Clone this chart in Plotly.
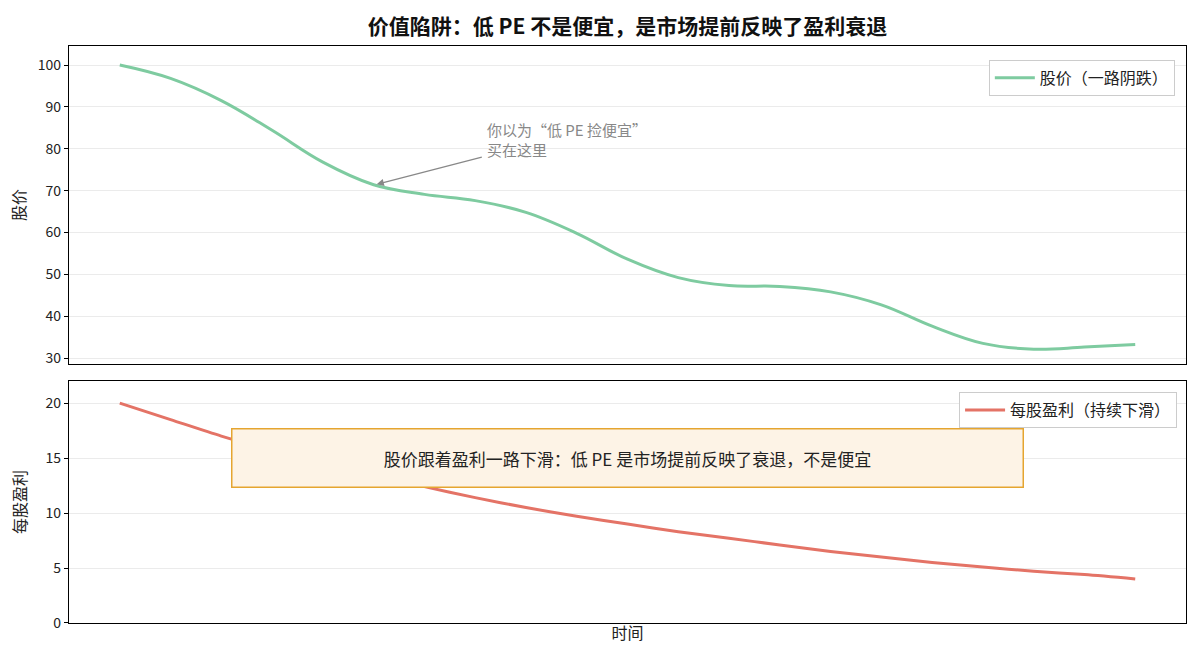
import plotly.graph_objects as go
from plotly.subplots import make_subplots

# ---- data ----
time = [0, 5, 10, 15, 20, 25, 30, 35, 40, 45, 50, 55, 60, 65, 70, 75, 80, 85, 90, 95, 100]
price = [100.0, 96.8, 91.5, 84.4, 76.8, 71.4, 69.1, 67.6, 64.8, 59.8, 53.6, 49.2,
         47.3, 47.1, 45.8, 42.7, 37.6, 33.5, 32.1, 32.6, 33.2]
eps = [20.0, 18.5, 17.0, 15.7, 14.5, 13.4, 12.4, 11.4, 10.5, 9.7, 9.0, 8.3,
       7.7, 7.1, 6.5, 6.0, 5.5, 5.1, 4.7, 4.4, 4.0]
price_ticks = [30, 40, 50, 60, 70, 80, 90, 100]
eps_ticks = [0, 5, 10, 15, 20]

buy_time, buy_price = 25.3, 71.5
note_time, note_price = 36.0, 82.1

title = "价值陷阱：低 PE 不是便宜，是市场提前反映了盈利衰退"
FONT = "Noto Sans CJK SC, Noto Sans, sans-serif"
GREEN = "#7ECBA0"
RED = "#E47366"

fig = make_subplots(rows=2, cols=1, shared_xaxes=True, vertical_spacing=0.0295,
                    row_heights=[0.568, 0.432])

fig.add_trace(go.Scatter(x=time, y=price, mode="lines", name="股价（一路阴跌）",
                         line=dict(color=GREEN, width=3, shape="spline", smoothing=1.1),
                         legend="legend"), row=1, col=1)
fig.add_trace(go.Scatter(x=time, y=eps, mode="lines", name="每股盈利（持续下滑）",
                         line=dict(color=RED, width=3, shape="spline", smoothing=0.8),
                         legend="legend2"), row=2, col=1)

axis_common = dict(showline=True, linecolor="black", linewidth=1.2, mirror=True,
                   zeroline=False)
fig.update_xaxes(range=[-5, 105], showgrid=False, showticklabels=False, ticks="",
                 **axis_common)
fig.update_xaxes(title=dict(text="时间", font=dict(size=16, color="#222"), standoff=4),
                 row=2, col=1)
fig.update_yaxes(showgrid=True, gridcolor="#EBEBEB", gridwidth=1, ticks="outside",
                 ticklen=4, tickcolor="black", tickfont=dict(size=14, color="#222"),
                 **axis_common)
fig.update_yaxes(range=[28.55, 104.55], tickvals=price_ticks,
                 title=dict(text="股价", font=dict(size=16, color="#222"), standoff=8),
                 row=1, col=1)
fig.update_yaxes(range=[0, 22], tickvals=eps_ticks,
                 title=dict(text="每股盈利", font=dict(size=16, color="#222"), standoff=14),
                 row=2, col=1)

# arrow annotation (top panel)
fig.add_annotation(x=buy_time, y=buy_price, ax=note_time - 0.2, ay=note_price - 4.0,
                   xref="x", yref="y", axref="x", ayref="y", text="",
                   showarrow=True, arrowhead=2, arrowsize=1.2, arrowwidth=1.2,
                   arrowcolor="#888888")
fig.add_annotation(x=note_time, y=note_price, xref="x", yref="y",
                   text="你以为“低 PE 捡便宜”<br>买在这里", showarrow=False,
                   xanchor="left", yanchor="middle", align="left",
                   font=dict(size=15, color="#888888"))

# summary box (bottom panel)
fig.add_annotation(x=50, y=15, xref="x2", yref="y2",
                   text="股价跟着盈利一路下滑：低 PE 是市场提前反映了衰退，不是便宜",
                   showarrow=False, xanchor="center", yanchor="middle",
                   width=790, height=57, bgcolor="#FDF3E6", bordercolor="#E5A530",
                   borderwidth=1.5, borderpad=0, font=dict(size=17, color="#222"))

fig.update_layout(
    width=1200, height=660,
    margin=dict(l=69, r=14, t=46, b=37),
    paper_bgcolor="white", plot_bgcolor="white",
    font=dict(family=FONT, color="#222"),
    title=dict(text="<b>" + title + "</b>", x=0.5, xref="paper", y=0.959,
               yref="container", yanchor="middle", font=dict(size=21, color="#111")),
    legend=dict(x=0.99, y=0.976, xanchor="right", yanchor="top", bgcolor="white",
                bordercolor="#CCCCCC", borderwidth=1, font=dict(size=16),
                itemwidth=40),
    legend2=dict(x=0.992, y=0.40, xanchor="right", yanchor="top", bgcolor="white",
                 bordercolor="#CCCCCC", borderwidth=1, font=dict(size=16),
                 itemwidth=40),
    showlegend=True,
)

fig.write_html("out.html")
